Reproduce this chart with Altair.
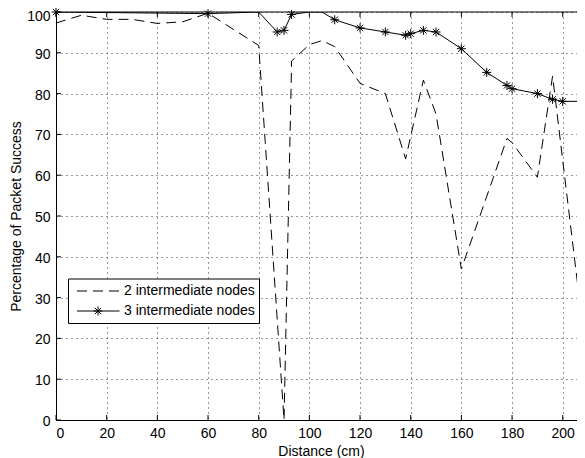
import altair as alt
import pandas as pd

# ---- data ----
dist_2 = [0, 10, 20, 30, 40, 50, 60, 80, 90, 93, 100, 105, 110, 120, 130, 138, 145, 150, 160, 178, 180, 190, 196, 210]
succ_2 = [97.3, 99.2, 98.2, 98.2, 97.2, 97.6, 99.7, 91.8, 0, 88, 92, 93, 91.5, 82.5, 80, 64, 83.3, 75, 37, 69, 68, 59.5, 84.3, 12]

dist_3 = [0, 60, 80, 87.3, 90, 93, 100, 105, 110, 120, 130, 138, 140, 145, 150, 160, 170, 178, 180, 190, 196, 200, 210]
succ_3 = [100, 99.6, 100, 95.1, 95.5, 99.4, 100, 100, 98.1, 96.1, 95.1, 94.3, 94.7, 95.5, 95.1, 91.0, 85.2, 82.0, 81.2, 80.0, 78.6, 78.1, 78.1]
star_3 = [True, True, False, True, True, True, False, False, True, True, True, True, True, True, True, True, True, True, True, True, True, True, False]

x_ticks = list(range(0, 201, 20))
y_ticks = list(range(0, 101, 10))
legend_labels = ["2 intermediate nodes", "3 intermediate nodes"]

# ---- layout / style ----
W, H = 521, 408
X_MAX = 205.64  # visible part of the axis (the reference is cropped at the right)
FONT = "Liberation Sans"
FS = 14
STAR = "M-1,0L1,0M0,-1L0,1M-0.7,-0.7L0.7,0.7M-0.7,0.7L0.7,-0.7"
DASH = [10, 6]

df2 = pd.DataFrame({"d": dist_2, "p": succ_2})
df3 = pd.DataFrame({"d": dist_3, "p": succ_3, "star": star_3})
dfx = pd.DataFrame({"d": x_ticks})
dfy = pd.DataFrame({"p": y_ticks})
dfl = pd.DataFrame({"label": legend_labels, "row": [0, 1]})

xs = alt.Scale(domain=[0, X_MAX], nice=False, zero=False)
ys = alt.Scale(domain=[0, 100], nice=False, zero=False)

xax = alt.Axis(values=x_ticks, title="Distance (cm)", grid=True, gridDash=[1, 4],
               gridColor="#333333", gridWidth=1, ticks=False, domain=True,
               domainColor="black", domainWidth=1,
               labelPadding=6, labelFontSize=FS, labelFont=FONT, labelColor="black",
               titleFont=FONT, titleFontSize=FS, titleFontWeight="normal", titleColor="black",
               titleX=265, titleY=35, titleBaseline="alphabetic", titleAlign="center")
yax = alt.Axis(values=y_ticks, title="Percentage of Packet Success", grid=True, gridDash=[1, 4],
               gridColor="#333333", gridWidth=1, ticks=False, domain=True,
               domainColor="black", domainWidth=1,
               labelPadding=6, labelFontSize=FS, labelFont=FONT, labelColor="black",
               labelOffset={"condition": {"test": "datum.value == 100", "value": 4}, "value": 1.5},
               titleFont=FONT, titleFontSize=FS, titleFontWeight="normal", titleColor="black",
               titleX=-40, titleY=H / 2, titleAngle=-90, titleBaseline="middle", titleAlign="center")

X = alt.X("d:Q", scale=xs, axis=xax)
Y = alt.Y("p:Q", scale=ys, axis=yax)

line2 = alt.Chart(df2).mark_line(color="black", strokeWidth=1, strokeDash=DASH, clip=True).encode(
    x=X, y=Y, order="d:Q")
line3 = alt.Chart(df3).mark_line(color="black", strokeWidth=1, clip=True).encode(
    x=X, y=Y, order="d:Q")
stars = alt.Chart(df3).transform_filter("datum.star").mark_point(
    shape=STAR, size=81, filled=False, stroke="black", strokeWidth=1, opacity=1
).encode(x=X, y=Y)

# top border of the box
top = alt.Chart(dfl).transform_filter("datum.row == 0").mark_rule(color="black", strokeWidth=1).encode(
    x=alt.value(0), x2=alt.value(W), y=alt.value(0))

# inward ticks (bottom, top, left)
tb = alt.Chart(dfx).mark_rule(color="black", strokeWidth=1).encode(
    x=X, y=alt.value(H), y2=alt.value(H - 5))
tt = alt.Chart(dfx).mark_rule(color="black", strokeWidth=1).encode(
    x=X, y=alt.value(0), y2=alt.value(5))
tl = alt.Chart(dfy).mark_rule(color="black", strokeWidth=1).encode(
    y=Y, x=alt.value(0), x2=alt.value(5))

# legend
lbox = alt.Chart(dfl).transform_filter("datum.row == 0").mark_rect(
    fill="white", stroke="black", strokeWidth=1).encode(
    x=alt.value(12.5), x2=alt.value(203.5), y=alt.value(267), y2=alt.value(311.5))
l1 = alt.Chart(dfl).transform_filter("datum.row == 0").mark_rule(
    color="black", strokeWidth=1, strokeDash=DASH).encode(
    x=alt.value(21), x2=alt.value(63.5), y=alt.value(279))
l2 = alt.Chart(dfl).transform_filter("datum.row == 1").mark_rule(
    color="black", strokeWidth=1).encode(
    x=alt.value(21), x2=alt.value(63.5), y=alt.value(299))
l2s = alt.Chart(dfl).transform_filter("datum.row == 1").mark_point(
    shape=STAR, size=81, filled=False, stroke="black", strokeWidth=1, opacity=1).encode(
    x=alt.value(42), y=alt.value(299))
t1 = alt.Chart(dfl).transform_filter("datum.row == 0").mark_text(
    align="left", baseline="middle", font=FONT, fontSize=FS, color="black").encode(
    x=alt.value(68), y=alt.value(279), text="label:N")
t2 = alt.Chart(dfl).transform_filter("datum.row == 1").mark_text(
    align="left", baseline="middle", font=FONT, fontSize=FS, color="black").encode(
    x=alt.value(68), y=alt.value(299), text="label:N")

chart = alt.layer(
    line2, line3, stars, top, tb, tt, tl, lbox, l1, l2, l2s, t1, t2
).properties(
    width=W, height=H,
    padding={"left": 48, "top": 4, "right": 0, "bottom": 38},
    autosize=alt.AutoSizeParams(type="none"),
    background="white",
).configure_view(stroke=None)

chart.save("out.html", embed_options={"renderer": "svg", "actions": False})
